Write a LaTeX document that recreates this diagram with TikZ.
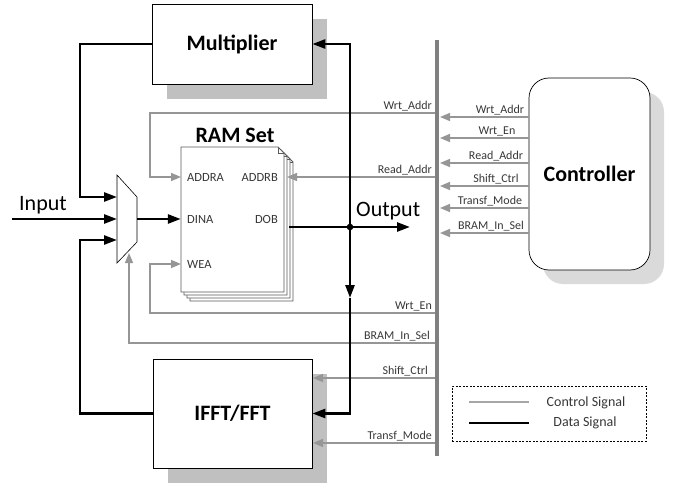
\documentclass[tikz,border=0pt]{standalone}
\usepackage{fontspec}
\setmainfont{Carlito}
\usetikzlibrary{arrows.meta,shadows}
\definecolor{ctlc}{RGB}{150,150,150}
\definecolor{busc}{RGB}{128,128,128}
\definecolor{txtc}{RGB}{55,55,55}
\definecolor{shadowc}{RGB}{192,192,192}
\definecolor{shadowl}{RGB}{218,218,218}
\definecolor{pagec}{RGB}{90,90,90}
\begin{document}
\begin{tikzpicture}[x=1pt,y=-1pt,
  blk/.style={draw=black, line width=0.7pt, fill=white, inner sep=0pt, font=\bfseries\fontsize{22}{24}\selectfont},
  shd/.style={drop shadow={shadow xshift=15pt, shadow yshift=-15pt, fill=shadowc, opacity=1}},
  shdl/.style={drop shadow={shadow xshift=14pt, shadow yshift=-14pt, fill=shadowl, opacity=1}},
  ctl/.style={draw=ctlc, line width=1.4pt},
  ctla/.style={ctl, -{Triangle[length=10pt,width=8pt]}},
  dat/.style={draw=black, line width=2.6pt},
  data/.style={dat, -{Triangle[length=13pt,width=9pt]}},
  sig/.style={font=\fontsize{12}{13}\selectfont, text=txtc, inner sep=1pt},
  port/.style={font=\fontsize{12.5}{13}\selectfont, text=txtc, inner sep=0pt},
  big/.style={font=\fontsize{22}{24}\selectfont, inner sep=0pt},
  legtxt/.style={font=\fontsize{14}{15}\selectfont, text=txtc, inner sep=0pt},
  page/.style={draw=pagec, line width=0.8pt, fill=white}
]
\useasboundingbox (0,0) rectangle (682,486);

% blocks
\node[blk, shd, minimum width=160pt, minimum height=80pt] (mult) at (232,44) {Multiplier};
\node[blk, shd, minimum width=159pt, minimum height=109pt] (ifft) at (232.5,413.5) {IFFT/FFT};
\node[blk, shdl, rounded corners=20pt, minimum width=121pt, minimum height=192pt] (ctrl) at (589.5,174) {Controller};

% RAM set pages
\foreach \d in {9,6,3,0} {
  \draw[page] (181+\d,147+\d) -- (278+\d,147+\d) -- (284+\d,153+\d) -- (284+\d,292+\d) -- (181+\d,292+\d) -- cycle;
  \draw[draw=pagec, line width=0.6pt] (278+\d,147+\d) -- (278+\d,153+\d) -- (284+\d,153+\d);
}
\node[minimum width=103pt, minimum height=145pt, inner sep=0pt] (ram) at (232.5,219.5) {};
\node[font=\bfseries\fontsize{22}{24}\selectfont, inner sep=0pt, anchor=base] (ramt) at (235,143) {RAM Set};
\node[port, anchor=west] (addra) at (187,177) {ADDRA};
\node[port, anchor=east] (addrb) at (278,177) {ADDRB};
\node[port, anchor=west] (dina) at (187,219) {DINA};
\node[port, anchor=east] (dob) at (278,219) {DOB};
\node[port, anchor=west] (wea) at (187,264) {WEA};

% mux
\draw[fill=white, line width=0.6pt] (117,175) -- (137,197) -- (137,242) -- (117,263) -- cycle;
\coordinate (muxA) at (117,197);
\coordinate (muxB) at (117,219);
\coordinate (muxC) at (117,240);
\coordinate (muxO) at (137,219);
\coordinate (muxS) at (129,253);

% control connectors (left of bus)
\coordinate (waB) at (437,113);
\coordinate (waC) at (150,177);
\coordinate (waT) at (181,177);
\draw[ctla] (waB) -| (waC) -- (waT);
\coordinate (raB) at (437,177);
\coordinate (raT) at (287,177);
\draw[ctla] (raB) -- (raT);
\coordinate (weB) at (437,313);
\coordinate (weC) at (150,264);
\coordinate (weT) at (181,264);
\draw[ctla] (weB) -| (weC) -- (weT);
\coordinate (bsB) at (437,343);
\draw[ctla] (bsB) -| (muxS);
\coordinate (scB) at (437,378);
\coordinate (scT) at (313,378);
\draw[ctla] (scB) -- (scT);
\coordinate (tmB) at (437,443);
\coordinate (tmT) at (313,443);
\draw[ctla] (tmB) -- (tmT);

\node[sig, anchor=south east] (lwa) at (433,112) {Wrt\_Addr};
\node[sig, anchor=south east] (lra) at (433,176) {Read\_Addr};
\node[sig, anchor=south east] (lwe) at (433,312) {Wrt\_En};
\node[sig, anchor=south east] (lbs) at (431,342) {BRAM\_In\_Sel};
\node[sig, anchor=south east] (lsc) at (429,377) {Shift\_Ctrl};
\node[sig, anchor=south east] (ltm) at (433,442) {Transf\_Mode};

% controller to bus
\foreach \yy/\lab/\cx [count=\i] in {117/Wrt\_Addr/500, 138/Wrt\_En/497, 163/Read\_Addr/496, 186/Shift\_Ctrl/496, 208/Transf\_Mode/490, 233/BRAM\_In\_Sel/491} {
  \coordinate (cs\i) at (ctrl.west |- 0,\yy);
  \coordinate (ct\i) at (440,\yy);
  \draw[ctla] (cs\i) -- (ct\i);
  \node[sig, anchor=south] (cl\i) at (\cx,\yy-1) {\lab};
}

% bus
\coordinate (busT) at (437,40);
\coordinate (busB) at (437,456);
\draw[draw=busc, line width=4.5pt] (busT) -- (busB);

% data connectors
\coordinate (inL) at (12,219);
\draw[data] (inL) -- (muxB);
\node[big, anchor=base west] (inlab) at (19,211) {Input};
\coordinate (jA) at (80,197);
\draw[data] (mult.west) -| (jA) -- (muxA);
\coordinate (jC) at (80,240);
\draw[data] (ifft.west) -| (jC) -- (muxC);
\draw[data] (muxO) -- (muxO -| ram.west);
\coordinate (dobO) at (289,227);
\coordinate (outE) at (410,227);
\coordinate (dot) at (350,227);
\draw[data] (dobO) -- (outE);
\node[big, anchor=base west] (outlab) at (356,217) {Output};
\fill (dot) circle (3.3pt);
\draw[data] (dot) |- (mult.east);
\coordinate (dmid) at (350,298);
\draw[data] (dot) -- (dmid);
\draw[data] (dmid) |- (ifft.east);

% legend
\node[draw, dash pattern=on 2pt off 1.5pt, line width=0.6pt, minimum width=194pt, minimum height=55pt, inner sep=0pt] (leg) at (549,413.5) {};
\coordinate (lg1a) at (469,402);
\coordinate (lg1b) at (529,402);
\coordinate (lg2a) at (469,423);
\coordinate (lg2b) at (529,423);
\draw[draw=ctlc!85, line width=2.6pt] (lg1a) -- (lg1b);
\draw[draw=black, line width=2.6pt] (lg2a) -- (lg2b);
\node[legtxt] (lgt1) at (586,403) {Control Signal};
\node[legtxt] (lgt2) at (585,423) {Data Signal};
\end{tikzpicture}
\end{document}
